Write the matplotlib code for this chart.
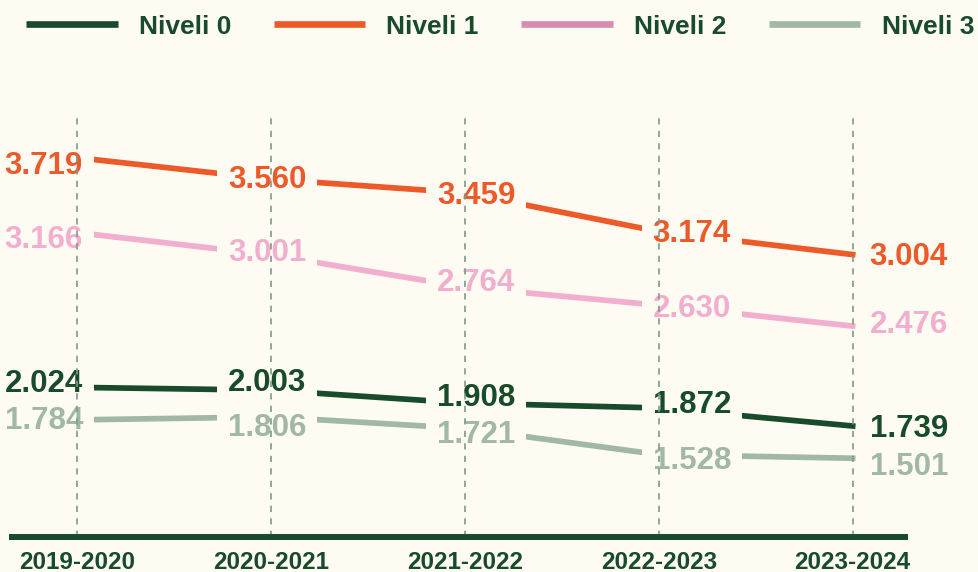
import matplotlib
matplotlib.use("Agg")
import matplotlib.pyplot as plt
from matplotlib.lines import Line2D

# ---- data ----
years = ["2019-2020", "2020-2021", "2021-2022", "2022-2023", "2023-2024"]
series_names = ["Niveli 0", "Niveli 1", "Niveli 2", "Niveli 3"]
niveli_0 = [2.024, 2.003, 1.908, 1.872, 1.739]
niveli_1 = [3.719, 3.560, 3.459, 3.174, 3.004]
niveli_2 = [3.166, 3.001, 2.764, 2.630, 2.476]
niveli_3 = [1.784, 1.806, 1.721, 1.528, 1.501]

# ---- style ----
BG = "#FEFBF3"
DARK = "#184B29"
line_colors = ["#184B29", "#EC5A2A", "#F2AECF", "#A0B8A5"]
legend_colors = ["#184B29", "#EC5A2A", "#D88BB0", "#A0B8A5"]
GRID = "#7C9C86"
FONT = "Liberation Sans"

# label placement (pixels): per-column alignment / x offset, per-label y nudge (+ = down)
col_ha = ["right", "left", "left", "left", "left"]
col_dx_px = [6, -43, -28, -6, 17]
label_nudge_px = [
    [-7, -10, -8, -6, 0],
    [5, -2, 0, -1, -1],
    [4, -5, -7, 1, -4],
    [-2, 8, 3, 3, 6],
]

W, H = 979, 572
fig = plt.figure(figsize=(W / 100, H / 100), dpi=100)
fig.patch.set_facecolor(BG)

left_px, right_px, top_px, bottom_px = 12, 905, 112, 536.7
ax = fig.add_axes([left_px / W, 1 - bottom_px / H,
                   (right_px - left_px) / W, (bottom_px - top_px) / H])
ax.set_facecolor(BG)

x = list(range(len(years)))
ax.set_xlim(-0.335, 4.27)
ax.set_ylim(0.922, 4.056)

# dashed vertical guides
for xi in x:
    ax.axvline(xi, color=GRID, lw=1.2, ls=(0, (3.75, 3.75)), zorder=5)

all_series = [niveli_0, niveli_1, niveli_2, niveli_3]
for vals, col in zip(all_series, line_colors):
    ax.plot(x, vals, color=col, lw=4.1, solid_capstyle="projecting", zorder=2)

FS = 22.5
for s, (vals, col) in enumerate(zip(all_series, line_colors)):
    for i, v in enumerate(vals):
        off = (col_dx_px[i] * 0.72, -0.716 * FS / 2 - label_nudge_px[s][i] * 0.72)
        common = dict(xytext=off, textcoords="offset points", ha=col_ha[i],
                      va="baseline", fontsize=FS, fontweight="bold", family=FONT,
                      annotation_clip=False)
        # background box that opens a gap in the lines
        ax.annotate(f"{v:.3f}", (x[i], v), color=BG, zorder=3,
                    bbox=dict(boxstyle="square,pad=0.34", fc=BG, ec="none"), **common)
        # the visible label on top of all boxes
        ax.annotate(f"{v:.3f}", (x[i], v), color=col, zorder=4, **common)

# axes styling
for s in ["top", "right", "left"]:
    ax.spines[s].set_visible(False)
ax.spines["bottom"].set_color(DARK)
ax.spines["bottom"].set_linewidth(4.3)
ax.spines["bottom"].set_zorder(6)
ax.set_yticks([])
ax.set_xticks(x)
ax.set_xticklabels(years, fontsize=17.5, fontweight="bold", family=FONT, color=DARK)
ax.tick_params(axis="x", length=0, pad=10)

# legend
handles = [Line2D([], [], color=c, lw=4.8, solid_capstyle="butt") for c in legend_colors]
leg = fig.legend(handles, series_names, loc="center left",
                 bbox_to_anchor=(26 / W, 1 - 26.7 / H), ncol=4, frameon=False,
                 prop={"family": FONT, "weight": "bold", "size": 19},
                 handlelength=3.48, handletextpad=0.8, columnspacing=1.6,
                 borderpad=0, borderaxespad=0)
for t in leg.get_texts():
    t.set_color(DARK)

fig.savefig("out.png", dpi=100, facecolor=BG)
